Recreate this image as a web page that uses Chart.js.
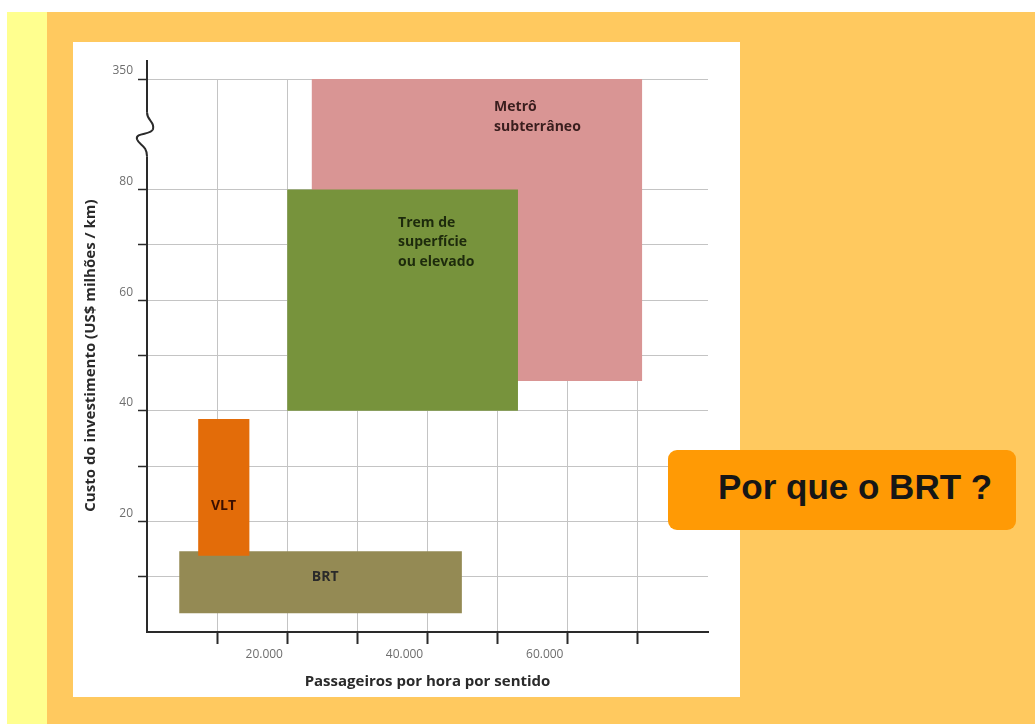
<!DOCTYPE html>
<html>
<head>
<meta charset="utf-8">
<script src="https://cdn.jsdelivr.net/npm/chart.js@4.4.1/dist/chart.umd.min.js"></script>
<style>
  html, body { margin: 0; padding: 0; background: #fff; }
  body { width: 1035px; height: 724px; position: relative; overflow: hidden; }
  .slide { position: absolute; left: 7px; top: 12px; width: 1028px; height: 712px; background: #ffc95f; }
  .strip { position: absolute; left: 7px; top: 12px; width: 40px; height: 712px; background: #ffff8f; }
  .panel { position: absolute; left: 73px; top: 42px; width: 667px; height: 655px; background: #fff; }
  .why {
    position: absolute; left: 668px; top: 450px; width: 348px; height: 80px;
    background: #ff9a05; border-radius: 9px; box-sizing: border-box; padding-left: 50px;
    font: bold 35px 'Liberation Sans', Arial, sans-serif; color: #161616; line-height: 74px;
  }
</style>
</head>
<body>
<div class="slide"></div>
<div class="strip"></div>
<div class="panel"><canvas id="chart" width="667" height="655"></canvas></div>
<div class="why">Por que o BRT ?</div>

<script>
// --- DATA --- //
const modes = ['VLT', 'BRT', 'Trem de superfície ou elevado', 'Metrô subterrâneo']
const paxMin = [7300, 4600, 20000, 23500]
const paxMax = [14600, 44900, 52900, 70600]
const costMin = [13.8, 3.4, 40, 45.4]
const costMax = [38.5, 14.6, 80, 350]
const colors = ['#e36c09', '#948a54', '#77933c', '#d99594']

const xTickValues = [20000, 40000, 60000]
const xTickLabels = ['20.000', '40.000', '60.000']
const yTickValues = [20, 40, 60, 80, 350]
const yTickLabels = ['20', '40', '60', '80', '350']

// axis break: 80 -> 350 squeezed into two grid steps
const BREAK_FROM = 80
const BREAK_TO = 350
const AXIS_TOP = 100

const toAxis = v =>
  v <= BREAK_FROM ? v : BREAK_FROM + (v - BREAK_FROM) / (BREAK_TO - BREAK_FROM) * (AXIS_TOP - BREAK_FROM)

// --- DATASETS (closed rectangles) --- //
const datasets = modes.map((mode, i) => {
  const y0 = toAxis(costMin[i])
  const y1 = toAxis(costMax[i])
  return {
    label: mode,
    data: [
      { x: paxMin[i], y: y0 },
      { x: paxMax[i], y: y0 },
      { x: paxMax[i], y: y1 },
      { x: paxMin[i], y: y1 },
      { x: paxMin[i], y: y0 }
    ],
    showLine: true,
    fill: 'shape',
    backgroundColor: colors[i],
    borderColor: 'rgba(0,0,0,0)',
    borderWidth: 0,
    pointRadius: 0,
    tension: 0
  }
})

// --- LABELS INSIDE THE BOXES --- //
const boxLabels = [
  { lines: ['Metrô', 'subterrâneo'], x: 49500, y: 94.9, align: 'left', color: '#3a1e1e' },
  { lines: ['Trem de', 'superfície', 'ou elevado'], x: 35800, y: 74.0, align: 'left', color: '#1d2a0c' },
  { lines: ['VLT'], x: 10900, y: 22.8, align: 'center', color: '#3b0f00' },
  { lines: ['BRT'], x: 25400, y: 9.9, align: 'center', color: '#2a2a2a' }
]

const boxText = {
  id: 'boxText',
  afterDatasetsDraw: chart => {
    const ctx = chart.ctx
    const xs = chart.scales.x
    const ys = chart.scales.y
    ctx.save()
    ctx.font = "bold 14px 'Open Sans', sans-serif"
    ctx.textBaseline = 'middle'
    boxLabels.forEach(l => {
      ctx.fillStyle = l.color
      ctx.textAlign = l.align
      const px = xs.getPixelForValue(l.x)
      const py = ys.getPixelForValue(l.y)
      l.lines.forEach((t, k) => ctx.fillText(t, px, py + k * 19.5))
    })
    ctx.restore()
  }
}

// --- AXIS EXTENSION + BREAK SQUIGGLE --- //
const axisBreak = {
  id: 'axisBreak',
  afterDraw: chart => {
    const ctx = chart.ctx
    const ys = chart.scales.y
    const ax = chart.chartArea.left
    const top = chart.chartArea.top
    const mid = (ys.getPixelForValue(toAxis(BREAK_FROM)) + ys.getPixelForValue(AXIS_TOP)) / 2
    const s = mid - 22
    ctx.save()
    ctx.strokeStyle = '#2a2a2a'
    ctx.lineWidth = 2
    ctx.beginPath()
    ctx.moveTo(ax, top)
    ctx.lineTo(ax, top - 19)
    ctx.stroke()

    ctx.fillStyle = '#fff'
    ctx.fillRect(ax - 2, s, 4, 44)
    ctx.beginPath()
    ctx.moveTo(ax, s)
    ctx.bezierCurveTo(ax, s + 9, ax + 8, s + 9, ax + 6, s + 17)
    ctx.bezierCurveTo(ax + 4, s + 23, ax - 12, s + 20, ax - 10, s + 27)
    ctx.bezierCurveTo(ax - 8, s + 33, ax, s + 33, ax, s + 44)
    ctx.stroke()
    ctx.restore()
  }
}

const clear = 'rgba(0,0,0,0)'

const chart = new Chart(document.getElementById('chart'), {
  type: 'scatter',
  data: { datasets },
  options: {
    responsive: false,
    animation: false,
    devicePixelRatio: 1,
    layout: { padding: { top: 37, right: 32, bottom: 0, left: 0 } },
    plugins: {
      legend: { display: false },
      tooltip: { enabled: false }
    },
    scales: {
      x: {
        type: 'linear',
        min: 0,
        max: 80000,
        afterFit: scale => { scale.height = 65 },
        afterBuildTicks: scale => {
          const vals = []
          for (let v = 0; v <= 80000; v += 10000) vals.push({ value: v })
          scale.ticks = vals
        },
        border: { color: '#2a2a2a', width: 2 },
        grid: {
          color: c => (c.tick && (c.tick.value === 0 || c.tick.value === 80000) ? clear : '#c4c4c4'),
          tickColor: c => (c.tick && (c.tick.value === 0 || c.tick.value === 80000) ? clear : '#2a2a2a'),
          lineWidth: 1,
          tickWidth: 2,
          tickLength: 12
        },
        ticks: {
          autoSkip: false,
          maxRotation: 0,
          padding: 3,
          labelOffset: -23,
          color: '#6e6e6e',
          font: { family: "'Open Sans', sans-serif", size: 12 },
          callback: v => {
            const i = xTickValues.indexOf(v)
            return i >= 0 ? xTickLabels[i] : ''
          }
        },
        title: {
          display: true,
          text: 'Passageiros por hora por sentido',
          color: '#2a2a2a',
          padding: { top: 0, bottom: 6 },
          font: { family: "'Open Sans', sans-serif", size: 15, weight: 'bold', lineHeight: 1.2 }
        }
      },
      y: {
        type: 'linear',
        min: 0,
        max: AXIS_TOP,
        afterFit: scale => { scale.width = 74 },
        afterBuildTicks: scale => {
          const vals = []
          for (let v = 0; v <= AXIS_TOP; v += 10) vals.push({ value: v })
          scale.ticks = vals
        },
        border: { color: '#2a2a2a', width: 2 },
        grid: {
          color: c => (c.tick && c.tick.value === 90 ? clear : '#c4c4c4'),
          tickColor: c => (c.tick && (c.tick.value === 90 || c.tick.value === 0) ? clear : '#2a2a2a'),
          lineWidth: 1,
          tickWidth: 1.5,
          tickLength: 9
        },
        ticks: {
          autoSkip: false,
          padding: 5,
          labelOffset: -8,
          color: '#6e6e6e',
          font: { family: "'Open Sans', sans-serif", size: 12 },
          callback: v => {
            const i = yTickValues.map(toAxis).indexOf(v)
            return i >= 0 ? yTickLabels[i] : ''
          }
        },
        title: {
          display: true,
          text: 'Custo do investimento (US$ milhões / km)',
          color: '#2a2a2a',
          padding: { top: 9, bottom: 0 },
          font: { family: "'Open Sans', sans-serif", size: 15, weight: 'bold', lineHeight: 1.2 }
        }
      }
    }
  },
  plugins: [boxText, axisBreak]
})
</script>
</body>
</html>
